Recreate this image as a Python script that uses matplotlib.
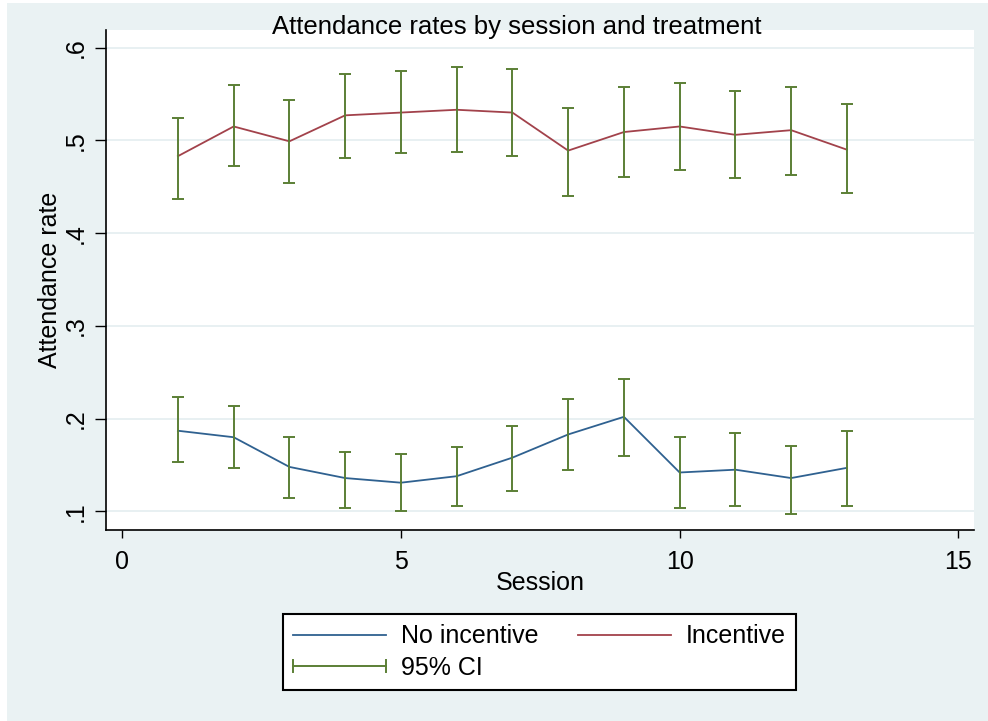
import matplotlib
matplotlib.use("Agg")
import matplotlib.pyplot as plt
import numpy as np
from matplotlib.lines import Line2D
from matplotlib.patches import Rectangle
from matplotlib.legend_handler import HandlerBase

plt.rcParams['font.family'] = ['Liberation Sans', 'DejaVu Sans']

# ---- data ----
sessions = [1, 2, 3, 4, 5, 6, 7, 8, 9, 10, 11, 12, 13]
no_inc_mean = [0.187, 0.180, 0.148, 0.136, 0.131, 0.138, 0.158, 0.183, 0.202, 0.142, 0.145, 0.136, 0.147]
no_inc_lo   = [0.153, 0.147, 0.115, 0.104, 0.101, 0.106, 0.122, 0.145, 0.160, 0.104, 0.106, 0.097, 0.106]
no_inc_hi   = [0.223, 0.214, 0.180, 0.164, 0.162, 0.169, 0.192, 0.221, 0.243, 0.180, 0.185, 0.171, 0.187]
inc_mean = [0.483, 0.515, 0.499, 0.527, 0.530, 0.533, 0.530, 0.489, 0.509, 0.515, 0.506, 0.511, 0.490]
inc_lo   = [0.437, 0.472, 0.454, 0.481, 0.486, 0.488, 0.483, 0.440, 0.461, 0.468, 0.459, 0.463, 0.443]
inc_hi   = [0.524, 0.560, 0.544, 0.572, 0.575, 0.579, 0.577, 0.535, 0.558, 0.562, 0.553, 0.558, 0.539]
xticks = [0, 5, 10, 15]
xticklabels = ['0', '5', '10', '15']
yticks = [0.1, 0.2, 0.3, 0.4, 0.5, 0.6]
yticklabels = ['.1', '.2', '.3', '.4', '.5', '.6']

BLUE = '#2f6190'
RED = '#a2424b'
GREEN = '#5b7f35'
BG = '#eaf2f3'
GRID = '#e4edf0'

W, H = 988, 721
fig = plt.figure(figsize=(W / 100, H / 100), dpi=100, facecolor='white')
fig.patches.append(Rectangle((7 / W, 0), 1 - 7 / W, 1 - 3 / H, transform=fig.transFigure,
                             facecolor=BG, edgecolor='none', zorder=-10))

ax = fig.add_axes([106 / W, 1 - 530 / H, (974 - 106) / W, (530 - 30) / H])
ax.set_facecolor('white')

s = np.array(sessions)
for m, lo, hi, col in [(no_inc_mean, no_inc_lo, no_inc_hi, BLUE), (inc_mean, inc_lo, inc_hi, RED)]:
    m = np.array(m); lo = np.array(lo); hi = np.array(hi)
    ax.plot(s, m, color=col, lw=1.3, zorder=3)
    ax.errorbar(s, m, yerr=[m - lo, hi - m], fmt='none', ecolor=GREEN, elinewidth=1.4,
                capsize=4, capthick=1.4, zorder=4)

ax.set_xlim(-0.29, 15.28)
ax.set_ylim(0.080, 0.619)
ax.set_xticks(xticks)
ax.set_xticklabels(xticklabels)
ax.set_yticks(yticks)
ax.set_yticklabels(yticklabels, rotation=90, va='center')
ax.yaxis.grid(True, color=GRID, lw=1.2)
ax.set_axisbelow(True)
for sp in ['top', 'right']:
    ax.spines[sp].set_visible(False)
for sp in ['left', 'bottom']:
    ax.spines[sp].set_linewidth(1.2)
    ax.spines[sp].set_color('black')
ax.tick_params(axis='y', length=8, width=1, pad=5, labelsize=18)
ax.tick_params(axis='x', length=5.5, width=1, pad=9, labelsize=18)
ax.set_xlabel('Session', fontsize=18, labelpad=-2.3)
ax.set_ylabel('Attendance rate', fontsize=18, labelpad=1.5)

fig.text(517 / W, 1 - 34 / H, 'Attendance rates by session and treatment', fontsize=18.5,
         ha='center', va='baseline')


class CIHandler(HandlerBase):
    def create_artists(self, legend, orig_handle, xdescent, ydescent, width, height, fontsize, trans):
        y = height / 2 - ydescent
        x0 = -xdescent
        x1 = x0 + width
        cap = 4
        arts = [Line2D([x0, x1], [y, y], color=GREEN, lw=1.4),
                Line2D([x0, x0], [y - cap, y + cap], color=GREEN, lw=1.4),
                Line2D([x1, x1], [y - cap, y + cap], color=GREEN, lw=1.4)]
        for a in arts:
            a.set_transform(trans)
        return arts


h_no = Line2D([], [], color=BLUE, lw=1.3)
h_in = Line2D([], [], color=RED, lw=1.3)
h_ci = Line2D([], [], color=GREEN)
leg = fig.legend([h_no, h_ci, h_in], ['No incentive', '95% CI', 'Incentive'], ncol=2,
                 loc='center', bbox_to_anchor=((282 + 797) / 2 / W, 1 - 652 / H),
                 handler_map={h_ci: CIHandler()}, fontsize=18, frameon=True, fancybox=False,
                 edgecolor='black', facecolor='white', framealpha=1, handlelength=3.7,
                 handletextpad=0.6, columnspacing=1.6, labelspacing=0.3, borderpad=0.4)
leg.get_frame().set_linewidth(1.5)

fig.savefig('out.png', dpi=100, facecolor=fig.get_facecolor())
